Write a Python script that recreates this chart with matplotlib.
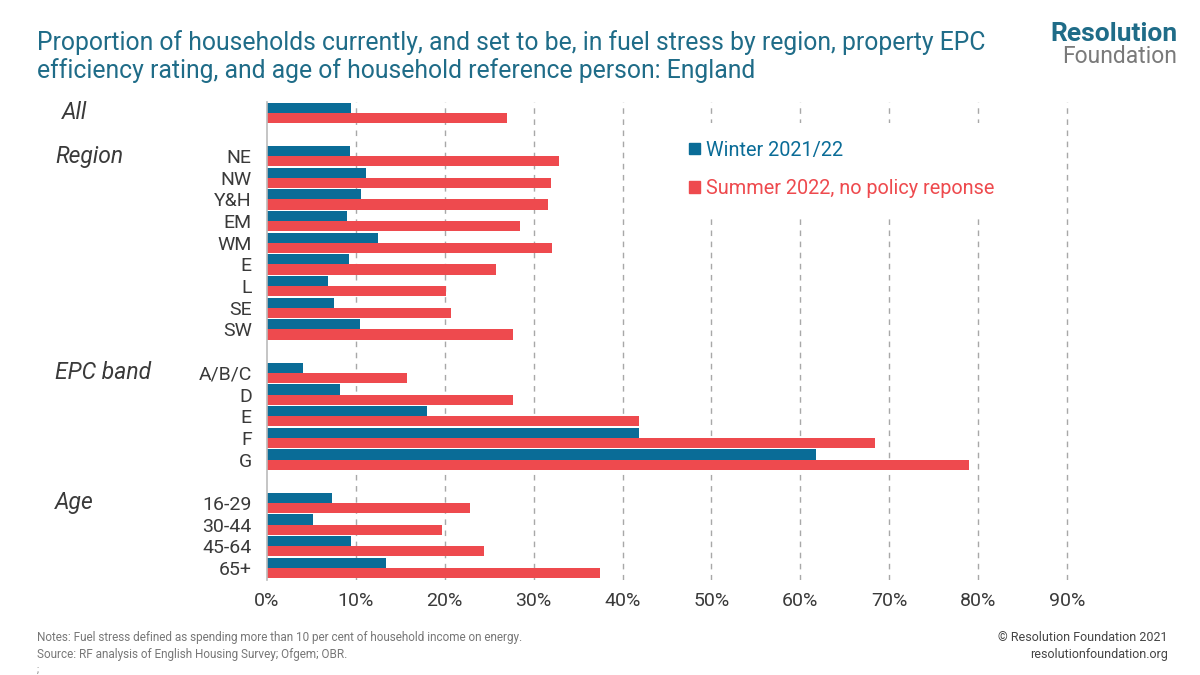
#!/usr/bin/env python3
"""
Fuel stress by region, EPC band and age - horizontal paired bars.
"""

import matplotlib.pyplot as plt
from matplotlib.patches import Patch
from matplotlib.transforms import blended_transform_factory

plt.rcParams['font.family'] = ['Roboto', 'DejaVu Sans']

# Data (percent of households in fuel stress)
categories = ['', 'NE', 'NW', 'Y&H', 'EM', 'WM', 'E', 'L', 'SE', 'SW',
              'A/B/C', 'D', 'E', 'F', 'G',
              '16-29', '30-44', '45-64', '65+']
winter_2122 = [9.4, 9.3, 11.1, 10.6, 9.0, 12.5, 9.2, 6.9, 7.5, 10.5,
               4.0, 8.2, 18.0, 41.8, 61.8,
               7.3, 5.2, 9.4, 13.4]
summer_2022 = [27.0, 32.9, 31.9, 31.6, 28.5, 32.1, 25.8, 20.1, 20.7, 27.7,
               15.8, 27.7, 41.9, 68.4, 79.0,
               22.8, 19.7, 24.4, 37.5]
# group name and its number of rows
groups = [('All', 1), ('Region', 9), ('EPC band', 5), ('Age', 4)]
series_labels = ['Winter 2021/22', 'Summer 2022, no policy reponse']
x_ticks = [0, 10, 20, 30, 40, 50, 60, 70, 80, 90]

BLUE = '#0A6C97'
RED = '#EE4A4E'
TEAL = '#1F6C88'
GREY_TXT = '#3A3A3A'


def row_positions(groups):
    """Row index for each category, leaving one blank row between groups."""
    pos, starts = [], []
    y = 0
    for name, n in groups:
        starts.append(y)
        pos.extend(range(y, y + n))
        y += n + 1
    return pos, starts


def main():
    pos, starts = row_positions(groups)

    fig = plt.figure(figsize=(12, 6.75), dpi=100)
    ax = fig.add_axes([0.2225, 0.141, 0.700, 0.708])

    h = 0.47
    ax.barh([p - 0.235 for p in pos], winter_2122, height=h, color=BLUE, zorder=2)
    ax.barh([p + 0.235 for p in pos], summer_2022, height=h, color=RED, zorder=2)

    ax.set_xlim(0, 94.5)
    ax.set_ylim(21.55, -0.5)
    ax.set_xticks(x_ticks)
    ax.set_xticklabels([f'{t}%' for t in x_ticks])
    ax.set_yticks(pos)
    ax.set_yticklabels(categories)
    ax.tick_params(axis='both', length=0, labelsize=14, colors=GREY_TXT)
    ax.tick_params(axis='y', pad=11)
    ax.tick_params(axis='x', pad=9)

    for s in ['top', 'right', 'bottom']:
        ax.spines[s].set_visible(False)
    ax.spines['left'].set_color('#BBBBBB')
    ax.spines['left'].set_linewidth(1.2)

    for t in x_ticks[1:]:
        ax.axvline(t, color='#A8A8A8', lw=1, ls=(0, (4, 4)), zorder=1)

    # group labels in italics on the left
    tr = blended_transform_factory(fig.transFigure, ax.transData)
    for (name, n), s in zip(groups, starts):
        x = 0.052 if name == 'All' else 0.046
        ax.text(x, s, name, transform=tr, fontsize=16.5, style='italic',
                color=GREY_TXT, va='center', ha='left')

    handles = [Patch(color=BLUE), Patch(color=RED)]
    ax.legend(handles, series_labels, loc='upper left',
              bbox_to_anchor=(0.551, 0.833), bbox_transform=fig.transFigure,
              frameon=True, facecolor='white', edgecolor='none', framealpha=1,
              fontsize=14.3, labelspacing=1.0, handlelength=0.55,
              handleheight=0.55, handletextpad=0.3, borderpad=0.9,
              labelcolor=[BLUE, RED])

    # title
    fig.text(0.031, 0.937, 'Proportion of households currently, and set to be, in fuel stress by region, property EPC',
             fontsize=17.8, color=TEAL, va='center', ha='left')
    fig.text(0.031, 0.896, 'efficiency rating, and age of household reference person: England',
             fontsize=17.8, color=TEAL, va='center', ha='left')

    # logo
    fig.text(0.981, 0.950, 'Resolution', fontsize=19, fontweight='bold', color=TEAL,
             ha='right', va='center')
    fig.text(0.981, 0.917, 'Foundation', fontsize=16.5, color='#7A7A7A',
             ha='right', va='center')

    # footer
    fig.text(0.031, 0.055, 'Notes: Fuel stress defined as spending more than 10 per cent of household income on energy.',
             fontsize=8.5, color='#777777', ha='left', va='center')
    fig.text(0.031, 0.031, 'Source: RF analysis of English Housing Survey; Ofgem; OBR.',
             fontsize=8.5, color='#777777', ha='left', va='center')
    fig.text(0.031, 0.008, ';', fontsize=7, color='#777777', ha='left', va='center')
    fig.text(0.973, 0.055, '\u00a9 Resolution Foundation 2021', fontsize=9, color='#444444',
             ha='right', va='center')
    fig.text(0.973, 0.031, 'resolutionfoundation.org', fontsize=9, color='#444444',
             ha='right', va='center')

    fig.savefig('out.png', dpi=100, facecolor='white')


if __name__ == '__main__':
    main()
